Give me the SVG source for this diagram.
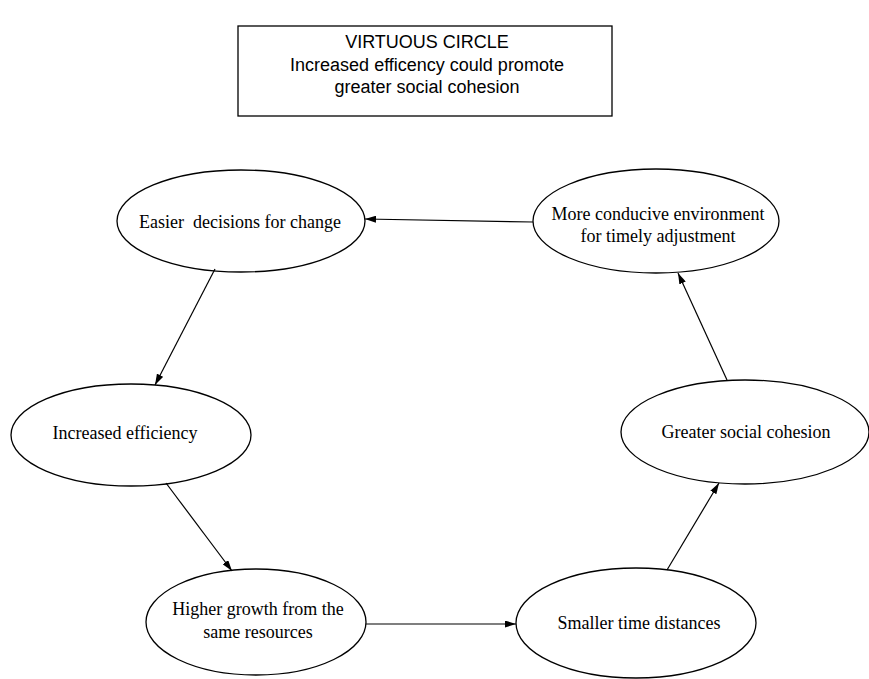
<svg xmlns="http://www.w3.org/2000/svg" width="869" height="679" viewBox="0 0 869 679">
<style>
.node ellipse{fill:#fff;stroke:#000;stroke-width:1.3}
.lbl{font-family:"Liberation Serif","Times New Roman",serif;font-size:18px;fill:#000;text-anchor:middle;white-space:pre}
.title{font-family:"Liberation Sans",Arial,sans-serif;font-size:18px;fill:#000;text-anchor:middle}
.edge{stroke:#000;stroke-width:1.2;fill:none;marker-end:url(#ah)}
</style>
<defs>
<marker id="ah" markerWidth="11" markerHeight="7" refX="11" refY="3.5" orient="auto" markerUnits="userSpaceOnUse">
<path d="M0,0 L11,3.5 L0,7 z" fill="#000"/>
</marker>
</defs>
<rect width="869" height="679" fill="#fff"/>
<g id="title">
<rect x="238" y="26" width="374" height="90" fill="#fff" stroke="#000" stroke-width="1.3"/>
<text class="title" x="427" y="48">VIRTUOUS CIRCLE</text>
<text class="title" x="427" y="71">Increased efficency could promote</text>
<text class="title" x="427" y="93">greater social cohesion</text>
</g>
<g id="n-easier" class="node">
<ellipse cx="241" cy="221" rx="124" ry="51"/>
<text class="lbl" x="240" y="228" xml:space="preserve">Easier  decisions for change</text>
</g>
<g id="n-conducive" class="node">
<ellipse cx="656" cy="221" rx="123" ry="52"/>
<text class="lbl" x="658" y="220">More conducive environment</text>
<text class="lbl" x="658" y="242">for timely adjustment</text>
</g>
<g id="n-efficiency" class="node">
<ellipse cx="131" cy="435" rx="120" ry="51"/>
<text class="lbl" x="125" y="439">Increased efficiency</text>
</g>
<g id="n-cohesion" class="node">
<ellipse cx="745" cy="432" rx="124" ry="52"/>
<text class="lbl" x="746" y="438">Greater social cohesion</text>
</g>
<g id="n-growth" class="node">
<ellipse cx="256" cy="622" rx="110" ry="53"/>
<text class="lbl" x="258" y="615">Higher growth from the</text>
<text class="lbl" x="258" y="638">same resources</text>
</g>
<g id="n-smaller" class="node">
<ellipse cx="636" cy="623" rx="120" ry="55"/>
<text class="lbl" x="639" y="629">Smaller time distances</text>
</g>
<g id="connectors">
<line class="edge" x1="533" y1="222" x2="365" y2="219"/>
<line class="edge" x1="215" y1="269" x2="155" y2="385"/>
<line class="edge" x1="166" y1="483" x2="232" y2="571"/>
<line class="edge" x1="366" y1="624" x2="516" y2="624"/>
<line class="edge" x1="667" y1="570" x2="719" y2="483"/>
<line class="edge" x1="727" y1="380" x2="678" y2="273"/>
</g>
</svg>
